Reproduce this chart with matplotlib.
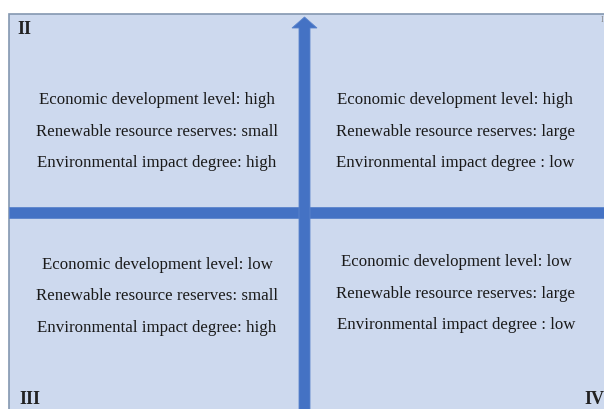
import matplotlib
matplotlib.use('Agg')
import matplotlib.pyplot as plt
from matplotlib.patches import Rectangle, FancyArrow

# quadrant labels and their text lines
quadrants   = ['II', 'I', 'III', 'IV']
economic    = ['high', 'high', 'low', 'low']
renewable   = ['small', 'large', 'small', 'large']
environment = ['high', 'low', 'high', 'low']

W, H    = 604, 409
fill    = '#cdd9ee'
edge    = '#8497b0'
blue    = '#4472c4'
font    = 'Liberation Serif'

fig = plt.figure(figsize=(W/100, H/100), dpi=100)
ax  = fig.add_axes([0, 0, 1, 1])
ax.set_xlim(0, W)
ax.set_ylim(H, 0)
ax.axis('off')

# background box
ax.add_patch(Rectangle((9, 14), W, H, facecolor=fill, edgecolor=edge, lw=1.2))

# horizontal bar
ax.add_patch(Rectangle((9, 207), W, 11, facecolor=blue, edgecolor='#5b84cc', lw=0.6))
# vertical arrow
ax.add_patch(FancyArrow(304.5, H + 5, 0, -(H + 5 - 17), width=11, head_width=25,
                        head_length=11, length_includes_head=True,
                        facecolor=blue, edgecolor='#5b84cc', lw=0.6))

centres = [(157, 100), (455, 100), (157, 265), (456, 262)]
for (cx, cy), e, r, v in zip(centres, economic, renewable, environment):
    env_sep = ': ' if v == 'high' else ' : '
    lines = ['Economic development level: ' + e,
             'Renewable resource reserves: ' + r,
             'Environmental impact degree' + env_sep + v]
    for k, line in enumerate(lines):
        ax.text(cx, cy + 31.5 * k, line, ha='center', va='center',
                fontsize=12.2, family=font, color='#1a1a1a')

num = dict(fontsize=13, family=font, color='#222222', fontweight='bold')
ax.text(17, 29, quadrants[0], ha='left', va='center', **num)
ax.text(603, 20, quadrants[1], ha='right', va='center', fontsize=6, family=font, color='#888888')
ax.text(19, 399, quadrants[2], ha='left', va='center', **num)
ax.text(604, 399, quadrants[3], ha='right', va='center', **num)

fig.savefig('out.png', dpi=100)
